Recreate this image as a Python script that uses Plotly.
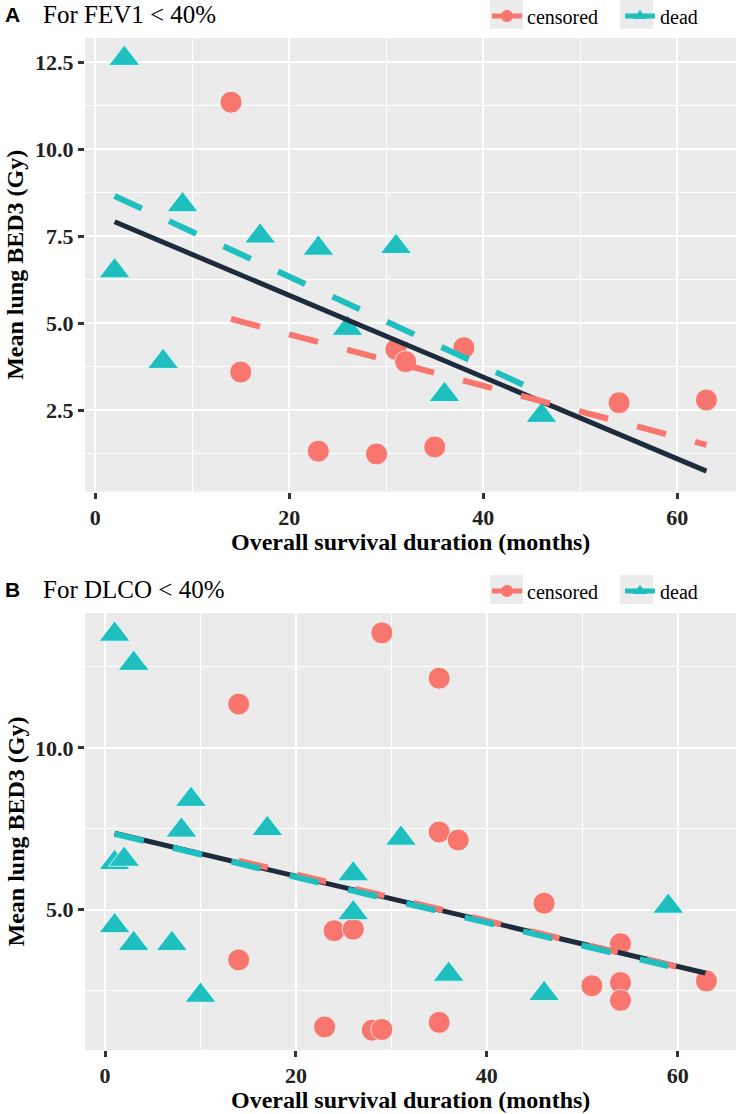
import numpy as np
import plotly.graph_objects as go

# ---------------- data ----------------
# Panel A: FEV1 < 40%
a_dead_months = [2, 3, 7, 9, 17, 23, 26, 31, 36, 46]
a_dead_bed3 = [6.5, 12.6, 3.9, 8.4, 7.5, 7.15, 4.85, 7.2, 2.95, 2.35]
a_cens_months = [14, 15, 23, 29, 31, 32, 35, 38, 54, 63]
a_cens_bed3 = [11.35, 3.6, 1.33, 1.25, 4.25, 3.9, 1.45, 4.3, 2.72, 2.8]

# Panel B: DLCO < 40%
b_dead_months = [1, 1, 1, 2, 3, 3, 7, 8, 9, 10, 17, 26, 26, 31, 36, 46, 59]
b_dead_bed3 = [13.5, 6.45, 4.5, 6.55, 12.6, 3.95, 3.95, 7.45, 8.4, 2.35, 7.5, 6.1, 4.9, 7.2, 3.0, 2.4, 5.1]
b_cens_months = [14, 14, 23, 24, 26, 28, 29, 29, 35, 35, 35, 37, 46, 51, 54, 54, 54, 63]
b_cens_bed3 = [11.35, 3.45, 1.38, 4.35, 4.4, 1.28, 13.55, 1.3, 12.15, 7.4, 1.52, 7.15, 5.2, 2.65, 3.95, 2.75, 2.2, 2.8]

panel_titles = ["For FEV1 < 40%", "For DLCO < 40%"]
panel_letters = ["A", "B"]
status_labels = ["censored", "dead"]
x_title = "Overall survival duration (months)"
y_title = "Mean lung BED3 (Gy)"

# ---------------- styling ----------------
W, H = 739, 1114
SERIF = "Liberation Serif"
SANS = "Liberation Sans"
RED = "#F8766D"
TEAL = "#1FBFC0"
NAVY = "#1E2B3C"
PANEL_BG = "#EBEBEB"
DASH = "30px,30px"


def fx(p):
    return p / W


def fy(p):
    return 1 - p / H


def fit_line(x, y):
    x = np.asarray(x, float)
    y = np.asarray(y, float)
    b, a = np.polyfit(x, y, 1)
    xs = np.linspace(x.min(), x.max(), 80)
    return xs, a + b * xs


panels = [
    dict(dx=a_dead_months, dy=a_dead_bed3, cx=a_cens_months, cy=a_cens_bed3,
         top=38, bottom=491.7, head=14, xt=542, ydtick=2.5),
    dict(dx=b_dead_months, dy=b_dead_bed3, cx=b_cens_months, cy=b_cens_bed3,
         top=613, bottom=1050, head=589, xt=1100, ydtick=5.0),
]

fig = go.Figure()
annotations = []
shapes = []
left_px, right_px = 85, 736
LEG_X = 487
LEG_STEP = 130

for i, p in enumerate(panels):
    xa = "x" if i == 0 else "x2"
    ya = "y" if i == 0 else "y2"
    leg = "legend" if i == 0 else "legend2"

    all_x = list(p["dx"]) + list(p["cx"])
    all_y = list(p["dy"]) + list(p["cy"])
    lx_all, ly_all = fit_line(all_x, all_y)
    lx_c, ly_c = fit_line(p["cx"], p["cy"])
    lx_d, ly_d = fit_line(p["dx"], p["dy"])

    # points
    fig.add_trace(go.Scatter(x=p["cx"], y=p["cy"], mode="markers", xaxis=xa, yaxis=ya,
                             marker=dict(symbol="circle", size=22, color=RED,
                                         line=dict(color="rgba(235,255,255,0.8)", width=1)),
                             showlegend=False, hoverinfo="skip"))
    fig.add_trace(go.Scatter(x=p["dx"], y=p["dy"], mode="markers", xaxis=xa, yaxis=ya,
                             marker=dict(symbol="triangle-up", size=27, color=TEAL,
                                         line=dict(color="rgba(235,255,255,0.8)", width=1)),
                             showlegend=False, hoverinfo="skip"))
    # fitted lines
    fig.add_trace(go.Scatter(x=lx_all, y=ly_all, mode="lines", xaxis=xa, yaxis=ya,
                             line=dict(color=NAVY, width=5), showlegend=False, hoverinfo="skip"))
    fig.add_trace(go.Scatter(x=lx_c, y=ly_c, mode="lines", xaxis=xa, yaxis=ya,
                             line=dict(color=RED, width=6, dash=DASH), showlegend=False, hoverinfo="skip"))
    fig.add_trace(go.Scatter(x=lx_d, y=ly_d, mode="lines", xaxis=xa, yaxis=ya,
                             line=dict(color=TEAL, width=6, dash=DASH), showlegend=False, hoverinfo="skip"))
    # legend-only entries
    for lab, col, sym in [(status_labels[0], RED, "circle"), (status_labels[1], TEAL, "triangle-up")]:
        fig.add_trace(go.Scatter(x=[None], y=[None], mode="lines+markers", xaxis=xa, yaxis=ya,
                                 name=lab, legend=leg,
                                 line=dict(color=col, width=5),
                                 marker=dict(symbol=sym, size=14, color=col)))

    # ranges like ggplot (5% expansion)
    xmin, xmax = min(all_x), max(all_x)
    xr = xmax - xmin
    ys = all_y + list(ly_all) + list(ly_c) + list(ly_d)
    ymin, ymax = min(ys), max(ys)
    yr = ymax - ymin

    xaxis = dict(domain=[fx(left_px), fx(right_px)], anchor=ya,
                 range=[xmin - 0.05 * xr, xmax + 0.05 * xr],
                 tick0=0, dtick=20, showgrid=True, gridcolor="white", gridwidth=2.2,
                 minor=dict(showgrid=True, dtick=10, tick0=0, gridcolor="white", gridwidth=1.1),
                 zeroline=False, showline=False, automargin=False,
                 ticks="outside", ticklen=6, tickwidth=2.5, tickcolor="#333333",
                 tickfont=dict(family=SERIF, size=22, color="#222222", weight="bold"))
    yaxis = dict(domain=[fy(p["bottom"]), fy(p["top"])], anchor=xa,
                 range=[ymin - 0.05 * yr, ymax + 0.05 * yr],
                 tick0=0, dtick=p["ydtick"], tickformat=".1f",
                 showgrid=True, gridcolor="white", gridwidth=2.2,
                 minor=dict(showgrid=True, dtick=p["ydtick"] / 2, tick0=0, gridcolor="white", gridwidth=1.1),
                 zeroline=False, showline=False, automargin=False,
                 ticks="outside", ticklen=6, tickwidth=2.5, tickcolor="#333333",
                 tickfont=dict(family=SERIF, size=22, color="#222222", weight="bold"))
    if i == 0:
        fig.update_layout(xaxis=xaxis, yaxis=yaxis)
    else:
        fig.update_layout(xaxis2=xaxis, yaxis2=yaxis)

    # texts
    annotations += [
        dict(text=panel_letters[i], x=fx(3), y=fy(p["head"]), xref="paper", yref="paper",
             xanchor="left", yanchor="middle", showarrow=False,
             font=dict(family=SANS, size=21, color="black", weight="bold")),
        dict(text=panel_titles[i], x=fx(41), y=fy(p["head"]), xref="paper", yref="paper",
             xanchor="left", yanchor="middle", showarrow=False,
             font=dict(family=SERIF, size=25, color="black")),
        dict(text=x_title, x=fx((left_px + right_px) / 2), y=fy(p["xt"]), xref="paper", yref="paper",
             xanchor="center", yanchor="middle", showarrow=False,
             font=dict(family=SERIF, size=24, color="black", weight="bold")),
        dict(text=y_title, x=fx(15), y=fy((p["top"] + p["bottom"]) / 2), xref="paper", yref="paper",
             xanchor="center", yanchor="middle", showarrow=False, textangle=-90,
             font=dict(family=SERIF, size=24, color="black", weight="bold")),
    ]
    # grey legend key backgrounds
    ky0 = p["head"] - 14
    for k in range(2):
        kx = LEG_X + 3 + k * LEG_STEP
        shapes.append(dict(type="rect", xref="paper", yref="paper", layer="below",
                           x0=fx(kx), x1=fx(kx + 33), y0=fy(ky0 + 29), y1=fy(ky0),
                           fillcolor="#EBEBEB", line=dict(width=0)))

legend_common = dict(orientation="h", xanchor="left", yanchor="middle",
                     xref="container", yref="container",
                     bgcolor="rgba(0,0,0,0)", borderwidth=0,
                     font=dict(family=SERIF, size=20, color="black"),
                     itemsizing="constant", entrywidth=LEG_STEP - 42, entrywidthmode="pixels",
                     traceorder="normal")

fig.update_layout(
    width=W, height=H,
    margin=dict(l=0, r=0, t=0, b=0, autoexpand=False),
    paper_bgcolor="white", plot_bgcolor=PANEL_BG,
    annotations=annotations, shapes=shapes,
    legend=dict(x=fx(LEG_X), y=fy(panels[0]["head"] + 2), **legend_common),
    legend2=dict(x=fx(LEG_X), y=fy(panels[1]["head"] + 2), **legend_common),
    showlegend=True,
)

fig.write_html("out.html", config={"displayModeBar": False},
               post_script="document.body.style.margin='0';")
